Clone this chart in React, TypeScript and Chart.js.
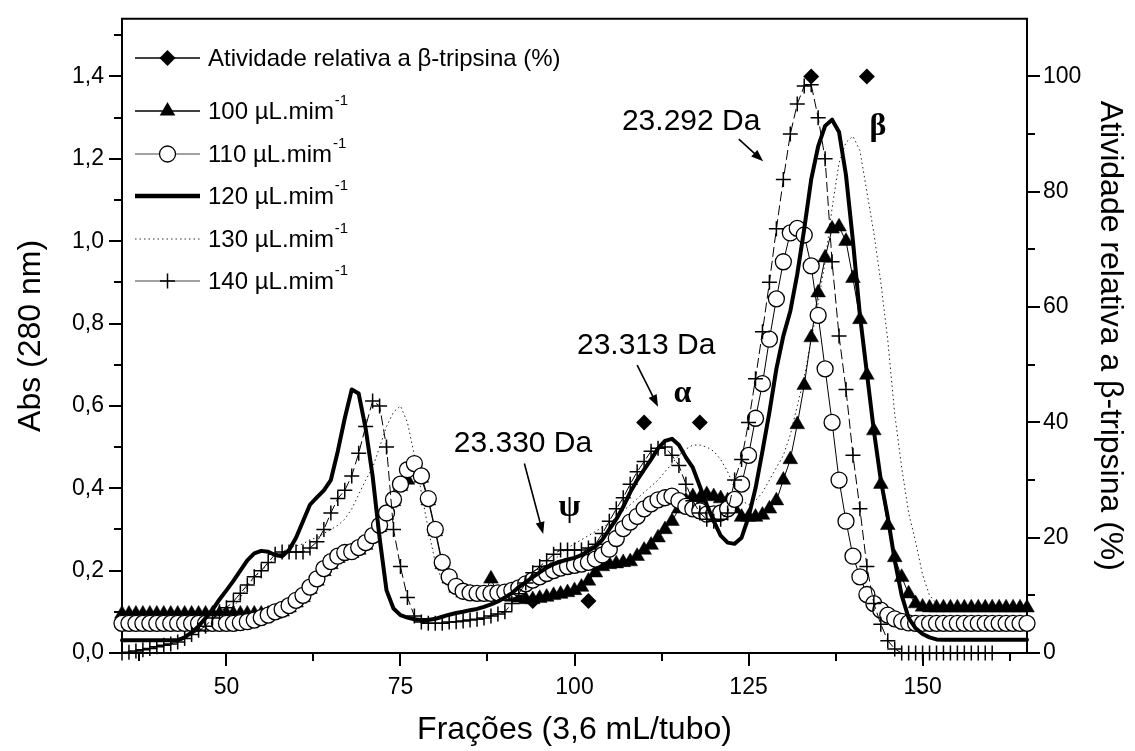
import React, { useEffect, useRef } from "react";
import { Chart, registerables } from "chart.js";

Chart.register(...registerables);

// ---------- DATA ----------
const fractions = [
  35, 36, 37, 38, 39, 40, 41, 42, 43, 44,
  45, 46, 47, 48, 49, 50, 51, 52, 53, 54,
  55, 56, 57, 58, 59, 60, 61, 62, 63, 64,
  65, 66, 67, 68, 69, 70, 71, 72, 73, 74,
  75, 76, 77, 78, 79, 80, 81, 82, 83, 84,
  85, 86, 87, 88, 89, 90, 91, 92, 93, 94,
  95, 96, 97, 98, 99, 100, 101, 102, 103, 104,
  105, 106, 107, 108, 109, 110, 111, 112, 113, 114,
  115, 116, 117, 118, 119, 120, 121, 122, 123, 124,
  125, 126, 127, 128, 129, 130, 131, 132, 133, 134,
  135, 136, 137, 138, 139, 140, 141, 142, 143, 144,
  145, 146, 147, 148, 149, 150, 151, 152, 153, 154,
  155, 156, 157, 158, 159, 160, 161, 162, 163, 164,
  165,
];

const abs100 = [
  0.095, 0.095, 0.095, 0.095, 0.095, 0.095, 0.095, 0.095, 0.095, 0.095,
  0.095, 0.095, 0.095, 0.095, 0.095, 0.095, 0.095, 0.095, 0.095, 0.095,
  0.095, 0.095, 0.095, 0.1, 0.11, 0.122, 0.135, 0.155, 0.175, 0.198,
  0.215, 0.23, 0.24, 0.242, 0.25, 0.262, 0.28, 0.305, 0.335, 0.368,
  0.405, 0.42, 0.455, 0.425, 0.37, 0.295, 0.215, 0.18, 0.158, 0.146,
  0.142, 0.14, 0.14, 0.18, 0.14, 0.138, 0.136, 0.134, 0.13, 0.13,
  0.133, 0.136, 0.14, 0.143, 0.147, 0.152, 0.16, 0.175, 0.195, 0.21,
  0.215, 0.217, 0.22, 0.222, 0.235, 0.25, 0.262, 0.28, 0.3, 0.32,
  0.35, 0.37, 0.38, 0.375, 0.385, 0.38, 0.375, 0.37, 0.35, 0.33,
  0.33, 0.33, 0.335, 0.35, 0.37, 0.42, 0.47, 0.555, 0.65, 0.766,
  0.875, 0.96, 1.03, 1.035, 1.0, 0.91, 0.81, 0.675, 0.54, 0.41,
  0.31, 0.232, 0.184, 0.144, 0.12, 0.112, 0.11, 0.11, 0.11, 0.11,
  0.11, 0.11, 0.11, 0.11, 0.11, 0.11, 0.11, 0.11, 0.11, 0.11,
  0.11,
];

const abs110 = [
  0.072, 0.072, 0.072, 0.072, 0.072, 0.072, 0.072, 0.072, 0.072, 0.072,
  0.072, 0.072, 0.072, 0.072, 0.072, 0.072, 0.072, 0.074, 0.076, 0.08,
  0.086, 0.092, 0.1, 0.106, 0.115, 0.128, 0.14, 0.16, 0.18, 0.205,
  0.222, 0.235, 0.244, 0.246, 0.256, 0.268, 0.285, 0.31, 0.34, 0.373,
  0.41, 0.445, 0.46, 0.43, 0.375, 0.3, 0.22, 0.185, 0.162, 0.15,
  0.146, 0.145, 0.145, 0.145, 0.146, 0.148, 0.152, 0.158, 0.168, 0.177,
  0.185, 0.193, 0.2, 0.206, 0.21, 0.213, 0.216, 0.22, 0.228, 0.238,
  0.252, 0.278, 0.302, 0.318, 0.332, 0.35, 0.362, 0.372, 0.377, 0.381,
  0.37, 0.356, 0.35, 0.345, 0.337, 0.338, 0.34, 0.35, 0.373, 0.41,
  0.48, 0.57, 0.654, 0.762, 0.86, 0.95, 1.02, 1.031, 1.015, 0.94,
  0.82, 0.69, 0.56, 0.42, 0.32, 0.235, 0.185, 0.142, 0.12, 0.104,
  0.092, 0.083, 0.077, 0.073, 0.072, 0.072, 0.072, 0.072, 0.072, 0.072,
  0.072, 0.072, 0.072, 0.072, 0.072, 0.072, 0.072, 0.072, 0.072, 0.072,
  0.072,
];

const abs120 = [
  0.031, 0.031, 0.031, 0.031, 0.031, 0.031, 0.031, 0.031, 0.031, 0.038,
  0.05, 0.065, 0.085, 0.105, 0.13, 0.152, 0.175, 0.2, 0.225, 0.242,
  0.248, 0.246, 0.238, 0.235, 0.25, 0.28, 0.32, 0.36, 0.378, 0.395,
  0.42, 0.49, 0.57, 0.64, 0.63, 0.545, 0.43, 0.28, 0.152, 0.108,
  0.092, 0.086, 0.082, 0.08, 0.08, 0.083, 0.088, 0.093, 0.097, 0.1,
  0.104, 0.107, 0.112, 0.118, 0.125, 0.135, 0.145, 0.16, 0.172, 0.184,
  0.196, 0.207, 0.216, 0.222, 0.227, 0.231, 0.238, 0.248, 0.258, 0.275,
  0.3, 0.325, 0.355, 0.39, 0.42, 0.445, 0.47, 0.497, 0.515, 0.52,
  0.505, 0.475, 0.45, 0.405, 0.36, 0.32, 0.285, 0.268, 0.265, 0.28,
  0.33, 0.4, 0.49, 0.585, 0.69, 0.77, 0.83, 0.92, 1.03, 1.15,
  1.23, 1.28, 1.295, 1.265, 1.16, 1.0, 0.82, 0.68, 0.54, 0.42,
  0.33, 0.225, 0.14, 0.085, 0.06, 0.046, 0.038, 0.033, 0.032, 0.032,
  0.032, 0.032, 0.032, 0.032, 0.032, 0.032, 0.032, 0.032, 0.032, 0.032,
  0.032,
];

const abs130 = [
  0.075, 0.075, 0.075, 0.075, 0.075, 0.075, 0.075, 0.075, 0.075, 0.075,
  0.075, 0.075, 0.075, 0.075, 0.08, 0.09, 0.11, 0.135, 0.16, 0.185,
  0.2, 0.215, 0.23, 0.245, 0.255, 0.26, 0.265, 0.275, 0.28, 0.29,
  0.3, 0.31, 0.325, 0.35, 0.385, 0.42, 0.45, 0.5, 0.55, 0.585,
  0.6, 0.56, 0.48, 0.39, 0.3, 0.22, 0.175, 0.16, 0.155, 0.152,
  0.152, 0.152, 0.152, 0.152, 0.152, 0.152, 0.16, 0.17, 0.18, 0.19,
  0.2, 0.21, 0.225, 0.24, 0.255, 0.265, 0.275, 0.285, 0.295, 0.305,
  0.315, 0.33, 0.345, 0.36, 0.375, 0.39, 0.405, 0.42, 0.44, 0.46,
  0.48, 0.495, 0.505, 0.505, 0.5, 0.49, 0.47, 0.44, 0.4, 0.37,
  0.36, 0.37, 0.39, 0.42, 0.45, 0.48, 0.53, 0.6, 0.67, 0.76,
  0.85, 0.95, 1.08, 1.19, 1.24, 1.255, 1.22, 1.12, 1.02, 0.9,
  0.76, 0.58, 0.45, 0.34, 0.27, 0.19, 0.14, 0.12, 0.115, 0.115,
  0.115, 0.115, 0.115, 0.115, 0.115, 0.115, 0.115, 0.115, 0.115, 0.115,
  0.115,
];

const abs140 = [
  0.0, 0.002, 0.005, 0.008, 0.011, 0.015, 0.019, 0.022, 0.027, 0.035,
  0.045, 0.055, 0.065, 0.085, 0.1, 0.11, 0.125, 0.145, 0.165, 0.185,
  0.2, 0.22, 0.24, 0.245, 0.245, 0.245, 0.245, 0.255, 0.27, 0.3,
  0.34, 0.375, 0.395, 0.43, 0.485, 0.55, 0.612, 0.6, 0.5, 0.3,
  0.21, 0.135, 0.09, 0.075, 0.072, 0.072, 0.072, 0.075, 0.076, 0.078,
  0.08, 0.082, 0.085, 0.09, 0.095, 0.1, 0.12, 0.144, 0.17, 0.195,
  0.21, 0.224, 0.24, 0.25, 0.25, 0.25, 0.25, 0.255, 0.264, 0.29,
  0.32, 0.35, 0.377, 0.41, 0.44, 0.465, 0.49, 0.497, 0.5, 0.48,
  0.455, 0.41, 0.37, 0.34, 0.325, 0.32, 0.325, 0.34, 0.42, 0.47,
  0.56, 0.666, 0.78, 0.9, 1.03, 1.15, 1.26, 1.333, 1.377, 1.38,
  1.3, 1.2, 0.95, 0.77, 0.64, 0.48, 0.35, 0.21, 0.12, 0.07,
  0.03, 0.01, 0.0, 0.0, 0.0, 0.0, 0.0, 0.0, 0.0, 0.0,
  0.0, 0.0, 0.0, 0.0, 0.0, 0.0, null, null, null, null,
  null,
];

// Activity relative to beta-trypsin (%), right axis
const activityFractions = [94, 102, 110, 118, 134, 142];
const activityValues = [9, 9, 40, 40, 100, 100];

const xTickValues = [50, 75, 100, 125, 150];
const xMinorTickValues = [37.5, 62.5, 87.5, 112.5, 137.5, 162.5];
const yTickValues = [0, 0.2, 0.4, 0.6, 0.8, 1.0, 1.2, 1.4];
const yMinorTickValues = [0.1, 0.3, 0.5, 0.7, 0.9, 1.1, 1.3, 1.5];
const y2TickValues = [0, 20, 40, 60, 80, 100];
const y2MinorTickValues = [10, 30, 50, 70, 90];

const seriesLabels = ["100 µL.mim", "110 µL.mim", "120 µL.mim", "130 µL.mim", "140 µL.mim"];
const activityLabel = "Atividade relativa a β-tripsina (%)";

const massLabels = ["23.292 Da", "23.313 Da", "23.330 Da"];
const massLabelX = [126.7, 110.3, 92.6];
const massLabelY = [1.289, 0.747, 0.508];
const massLabelAlign = ["right", "center", "center"];
const arrowStartX = [123.6, 109.0, 92.8];
const arrowStartY = [1.248, 0.699, 0.46];
const arrowEndX = [127.1, 112.0, 95.5];
const arrowEndY = [1.194, 0.598, 0.289];
const greekLabels = ["α", "β", "ψ"];
const greekX = [115.5, 143.6, 99.3];
const greekY = [0.629, 1.277, 0.352];

// ---------- STYLE ----------
const FONT = "'Liberation Sans', Arial, Helvetica, sans-serif";
const W = 1135;
const H = 751;

const pts = (xs: number[], ys: (number | null)[]) =>
  xs.map((x, i) => ({ x, y: ys[i] }));

function drawMarker(ctx: CanvasRenderingContext2D, style: string, x: number, y: number, r: number) {
  ctx.beginPath();
  if (style === "triangle") {
    for (let k = 0; k < 3; k++) {
      const a = (k * 2 * Math.PI) / 3;
      const px = x + Math.sin(a) * r;
      const py = y - Math.cos(a) * r;
      if (k === 0) ctx.moveTo(px, py);
      else ctx.lineTo(px, py);
    }
    ctx.closePath();
    ctx.fillStyle = "#000";
    ctx.fill();
  } else if (style === "circle") {
    ctx.arc(x, y, r, 0, Math.PI * 2);
    ctx.fillStyle = "#fff";
    ctx.fill();
    ctx.lineWidth = 1.3;
    ctx.strokeStyle = "#000";
    ctx.stroke();
  } else if (style === "diamond") {
    ctx.moveTo(x - r, y);
    ctx.lineTo(x, y - r);
    ctx.lineTo(x + r, y);
    ctx.lineTo(x, y + r);
    ctx.closePath();
    ctx.fillStyle = "#000";
    ctx.fill();
  } else if (style === "cross") {
    ctx.moveTo(x - r, y);
    ctx.lineTo(x + r, y);
    ctx.moveTo(x, y - r);
    ctx.lineTo(x, y + r);
    ctx.lineWidth = 1.5;
    ctx.strokeStyle = "#000";
    ctx.stroke();
  }
}

const legendRows = [
  { marker: "diamond", width: 1.3, dash: [] as number[], color: "#000", r: 8, sup: false },
  { marker: "triangle", width: 1.3, dash: [] as number[], color: "#000", r: 9, sup: true },
  { marker: "circle", width: 1, dash: [] as number[], color: "#444", r: 8, sup: true },
  { marker: "", width: 4.5, dash: [] as number[], color: "#000", r: 0, sup: true },
  { marker: "", width: 1, dash: [1.5, 3], color: "#333", r: 0, sup: true },
  { marker: "cross", width: 1, dash: [] as number[], color: "#444", r: 7.5, sup: true },
];
const legendRowY = [58, 111, 154, 196, 239, 281];

const decorPlugin = {
  id: "decor",
  afterDraw(chart: any) {
    const ctx: CanvasRenderingContext2D = chart.ctx;
    const { left, right, top, bottom } = chart.chartArea;
    const xs = chart.scales.x;
    const ys = chart.scales.y;
    const y2s = chart.scales.y2;
    ctx.save();
    ctx.strokeStyle = "#000";
    ctx.lineWidth = 2;
    // top frame
    ctx.beginPath();
    ctx.moveTo(left - 1, top);
    ctx.lineTo(right + 1, top);
    ctx.stroke();
    // minor ticks
    ctx.beginPath();
    xMinorTickValues.forEach((v) => {
      const px = Math.round(xs.getPixelForValue(v));
      ctx.moveTo(px, bottom);
      ctx.lineTo(px, bottom + 8);
    });
    yMinorTickValues.forEach((v) => {
      const py = Math.round(ys.getPixelForValue(v));
      ctx.moveTo(left, py);
      ctx.lineTo(left - 8, py);
    });
    y2MinorTickValues.forEach((v) => {
      const py = Math.round(y2s.getPixelForValue(v));
      ctx.moveTo(right, py);
      ctx.lineTo(right + 8, py);
    });
    ctx.stroke();

    // legend
    const labels = [activityLabel, ...seriesLabels];
    legendRows.forEach((row, i) => {
      const cy = legendRowY[i];
      const x0 = left + 13;
      const x1 = left + 78;
      ctx.save();
      ctx.beginPath();
      ctx.setLineDash(row.dash);
      ctx.lineWidth = row.width;
      ctx.strokeStyle = row.color;
      ctx.moveTo(x0, cy);
      ctx.lineTo(x1, cy);
      ctx.stroke();
      ctx.setLineDash([]);
      if (row.marker) drawMarker(ctx, row.marker, (x0 + x1) / 2, cy, row.r);
      ctx.restore();
      ctx.fillStyle = "#000";
      ctx.font = `24px ${FONT}`;
      ctx.textAlign = "left";
      ctx.textBaseline = "middle";
      const tx = left + 86;
      ctx.fillText(labels[i], tx, cy + 1);
      if (row.sup) {
        const w = ctx.measureText(labels[i]).width;
        ctx.font = `15px ${FONT}`;
        ctx.fillText("-1", tx + w + 1, cy - 10);
      }
    });

    // mass annotations
    ctx.fillStyle = "#000";
    ctx.font = `30px ${FONT}`;
    ctx.textBaseline = "middle";
    massLabels.forEach((t, i) => {
      ctx.textAlign = massLabelAlign[i] as CanvasTextAlign;
      ctx.fillText(t, xs.getPixelForValue(massLabelX[i]), ys.getPixelForValue(massLabelY[i]));
    });
    // arrows
    arrowStartX.forEach((_, i) => {
      const ax = xs.getPixelForValue(arrowStartX[i]);
      const ay = ys.getPixelForValue(arrowStartY[i]);
      const bx = xs.getPixelForValue(arrowEndX[i]);
      const by = ys.getPixelForValue(arrowEndY[i]);
      const ang = Math.atan2(by - ay, bx - ax);
      const hl = 12;
      const hw = 4.5;
      ctx.beginPath();
      ctx.lineWidth = 1.6;
      ctx.strokeStyle = "#000";
      ctx.moveTo(ax, ay);
      ctx.lineTo(bx - Math.cos(ang) * hl * 0.8, by - Math.sin(ang) * hl * 0.8);
      ctx.stroke();
      ctx.beginPath();
      ctx.moveTo(bx, by);
      ctx.lineTo(bx - Math.cos(ang) * hl + Math.sin(ang) * hw, by - Math.sin(ang) * hl - Math.cos(ang) * hw);
      ctx.lineTo(bx - Math.cos(ang) * hl - Math.sin(ang) * hw, by - Math.sin(ang) * hl + Math.cos(ang) * hw);
      ctx.closePath();
      ctx.fill();
    });
    // greek letters
    ctx.font = `bold 32px 'Liberation Serif', 'DejaVu Serif', serif`;
    ctx.textAlign = "center";
    greekLabels.forEach((t, i) => {
      ctx.fillText(t, xs.getPixelForValue(greekX[i]), ys.getPixelForValue(greekY[i]));
    });
    ctx.restore();
  },
};

export default function App() {
  const ref = useRef<HTMLCanvasElement | null>(null);
  useEffect(() => {
    if (!ref.current) return;
    const tickFont = { family: FONT, size: 23 };
    const titleFont = { family: FONT, size: 32 };
    const axisCommon = {
      grid: {
        display: true,
        drawOnChartArea: false,
        drawTicks: true,
        tickLength: 13,
        lineWidth: 2,
        color: "#000",
      },
      border: { display: true, width: 2, color: "#000" },
    };
    const chart = new Chart(ref.current, {
      type: "line",
      data: {
        datasets: [
          {
            label: activityLabel,
            data: pts(activityFractions, activityValues),
            yAxisID: "y2",
            showLine: false,
            pointStyle: "rectRot",
            pointRadius: 8,
            pointBackgroundColor: "#000",
            pointBorderColor: "#000",
            pointBorderWidth: 0,
            borderColor: "#000",
            order: 0,
            clip: false,
          },
          {
            label: seriesLabels[0],
            data: pts(fractions, abs100),
            yAxisID: "y",
            borderColor: "#000",
            borderWidth: 1,
            pointStyle: "triangle",
            pointRadius: 8.5,
            pointBackgroundColor: "#000",
            pointBorderColor: "#000",
            pointBorderWidth: 0.5,
            order: 4,
            clip: false,
          },
          {
            label: seriesLabels[1],
            data: pts(fractions, abs110),
            yAxisID: "y",
            borderColor: "#000",
            borderWidth: 1,
            pointStyle: "circle",
            pointRadius: 8,
            pointBackgroundColor: "#fff",
            pointBorderColor: "#000",
            pointBorderWidth: 1.3,
            order: 3,
            clip: false,
          },
          {
            label: seriesLabels[2],
            data: pts(fractions, abs120),
            yAxisID: "y",
            borderColor: "#000",
            borderWidth: 4,
            borderJoinStyle: "round",
            borderCapStyle: "round",
            pointRadius: 0,
            order: 1,
            clip: false,
          },
          {
            label: seriesLabels[3],
            data: pts(fractions, abs130),
            yAxisID: "y",
            borderColor: "#222",
            borderWidth: 1,
            borderDash: [1.5, 3],
            pointRadius: 0,
            order: 5,
            clip: false,
          },
          {
            label: seriesLabels[4],
            data: pts(fractions, abs140),
            yAxisID: "y",
            borderColor: "#000",
            borderWidth: 1,
            borderDash: [10, 4],
            pointStyle: "cross",
            pointRadius: 7.5,
            pointBorderColor: "#000",
            pointBorderWidth: 1.5,
            order: 2,
            clip: false,
          },
        ],
      },
      options: {
        animation: false,
        responsive: false,
        maintainAspectRatio: false,
        devicePixelRatio: 1,
        layout: { padding: { top: 14, left: 0, right: 0, bottom: 0 } },
        plugins: { legend: { display: false }, tooltip: { enabled: false } },
        elements: { line: { tension: 0 }, point: { hoverRadius: 0 } },
        scales: {
          x: {
            type: "linear",
            position: "bottom",
            min: 35,
            max: 165,
            ...axisCommon,
            afterBuildTicks: (s: any) => {
              s.ticks = xTickValues.map((v) => ({ value: v }));
            },
            afterFit: (s: any) => {
              s.height = 98;
            },
            ticks: { font: tickFont, color: "#000", padding: 8, maxRotation: 0, autoSkip: false },
            title: {
              display: true,
              text: "Frações (3,6 mL/tubo)",
              font: titleFont,
              color: "#000",
              padding: { top: 0, bottom: 2 },
            },
          },
          y: {
            type: "linear",
            position: "left",
            min: 0,
            max: 1.54,
            ...axisCommon,
            afterBuildTicks: (s: any) => {
              s.ticks = yTickValues.map((v) => ({ value: v }));
            },
            afterFit: (s: any) => {
              s.width = 122;
            },
            ticks: {
              font: tickFont,
              color: "#000",
              padding: 5,
              autoSkip: false,
              callback: (v: any) => Number(v).toFixed(1).replace(".", ","),
            },
            title: {
              display: true,
              text: "Abs (280 nm)",
              font: titleFont,
              color: "#000",
              padding: { top: 12, bottom: 0 },
            },
          },
          y2: {
            type: "linear",
            position: "right",
            min: 0,
            max: 110,
            ...axisCommon,
            afterBuildTicks: (s: any) => {
              s.ticks = y2TickValues.map((v) => ({ value: v }));
            },
            afterFit: (s: any) => {
              s.width = 108;
            },
            ticks: { font: tickFont, color: "#000", padding: 3, autoSkip: false },
            title: {
              display: true,
              text: activityLabel,
              font: titleFont,
              color: "#000",
              padding: { top: 6, bottom: 0 },
            },
          },
        },
      },
      plugins: [decorPlugin],
    } as any);
    return () => chart.destroy();
  }, []);

  return (
    <div style={{ position: "absolute", left: 0, top: 0, width: W, height: H, background: "#fff" }}>
      <canvas ref={ref} width={W} height={H} style={{ width: W, height: H, display: "block" }} />
    </div>
  );
}
